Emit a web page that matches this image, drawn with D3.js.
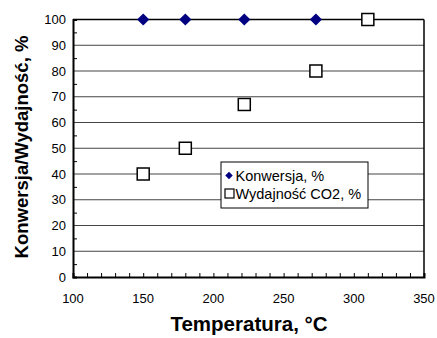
<!DOCTYPE html>
<html>
<head>
<meta charset="utf-8">
<script src="https://cdn.jsdelivr.net/npm/d3@7"></script>
<style>
  body { margin: 0; background: #fff; }
  text { font-family: Arial, "Liberation Sans", sans-serif; }
</style>
</head>
<body>
<div class="chart"></div>
<script>
// 데이터
const temps = [150, 180, 222, 273, 310];
const konwersja = [100, 100, 100, 100, null];
const wydajnosc = [40, 50, 67, 80, 100];
const xTicks = [100, 150, 200, 250, 300, 350];
const yTicks = [0, 10, 20, 30, 40, 50, 60, 70, 80, 90, 100];
const seriesNames = ['Konwersja, %', 'Wydajność CO2, %'];

const W = 437, H = 338;
const margin = {top: 19.5, right: 13, bottom: 61, left: 73};

const svg = d3.select('.chart').append('svg')
  .attr('width', W).attr('height', H);

const x = d3.scaleLinear().domain([100, 350]).range([margin.left, W - margin.right]);
const y = d3.scaleLinear().domain([0, 100]).range([H - margin.bottom, margin.top]);

// 그리드
svg.append('g')
  .selectAll('line')
  .data(yTicks.filter(d => d > 0))
  .join('line')
    .attr('x1', x(100)).attr('x2', x(350))
    .attr('y1', d => y(d)).attr('y2', d => y(d))
    .attr('stroke', d => d === 100 ? '#000' : '#444')
    .attr('stroke-width', d => d === 100 ? 1.5 : 1);

// 오른쪽 테두리
svg.append('line')
  .attr('x1', x(350)).attr('x2', x(350))
  .attr('y1', y(0)).attr('y2', y(100))
  .attr('stroke', '#000').attr('stroke-width', 1.5);

// 축
const xAxis = svg.append('g')
  .attr('transform', `translate(0,${y(0)})`)
  .call(d3.axisBottom(x).tickValues(d3.range(100, 351, 10)).tickSize(-4).tickFormat(''));
xAxis.select('.domain').attr('stroke-width', 2);
xAxis.selectAll('.tick line').attr('stroke-width', 1);

svg.append('g')
  .selectAll('text')
  .data(xTicks)
  .join('text')
    .attr('x', d => x(d))
    .attr('y', y(0) + 26)
    .attr('text-anchor', 'middle')
    .attr('font-size', 13)
    .text(d => d);

const yAxis = svg.append('g')
  .attr('transform', `translate(${x(100)},0)`)
  .call(d3.axisLeft(y).tickValues(d3.range(5, 100, 10)).tickSize(-4).tickFormat(''));
yAxis.select('.domain').attr('stroke-width', 2);

svg.append('g')
  .selectAll('text')
  .data(yTicks)
  .join('text')
    .attr('x', x(100) - 7)
    .attr('y', d => y(d))
    .attr('dy', '0.35em')
    .attr('text-anchor', 'end')
    .attr('font-size', 13)
    .text(d => d);

// 축 제목
svg.append('text')
  .attr('x', 249)
  .attr('y', 331)
  .attr('text-anchor', 'middle')
  .attr('font-size', 20.5)
  .attr('font-weight', 'bold')
  .text('Temperatura, °C');

svg.append('text')
  .attr('transform', `translate(28,147) rotate(-90)`)
  .attr('text-anchor', 'middle')
  .attr('font-size', 18.5)
  .attr('font-weight', 'bold')
  .text('Konwersja/Wydajność, %');

// 데이터 마커
const diamond = d3.symbol().type(d3.symbolDiamond2).size(95);
svg.append('g')
  .selectAll('path')
  .data(temps.map((t, i) => [t, konwersja[i]]).filter(d => d[1] != null))
  .join('path')
    .attr('transform', d => `translate(${x(d[0])},${y(d[1])})`)
    .attr('d', diamond)
    .attr('fill', '#000080');

svg.append('g')
  .selectAll('rect')
  .data(temps.map((t, i) => [t, wydajnosc[i]]))
  .join('rect')
    .attr('x', d => x(d[0]) - 6)
    .attr('y', d => y(d[1]) - 6)
    .attr('width', 12).attr('height', 12)
    .attr('fill', '#fff')
    .attr('stroke', '#000')
    .attr('stroke-width', 1.5);

// 범례
const lg = svg.append('g').attr('transform', 'translate(221,162)');
lg.append('rect')
  .attr('width', 147).attr('height', 46)
  .attr('fill', '#fff').attr('stroke', '#000').attr('stroke-width', 1);
lg.append('path')
  .attr('transform', 'translate(8,13.5)')
  .attr('d', d3.symbol().type(d3.symbolDiamond2).size(36))
  .attr('fill', '#000080');
lg.append('rect')
  .attr('x', 4).attr('y', 27).attr('width', 9).attr('height', 9)
  .attr('fill', '#fff').attr('stroke', '#000').attr('stroke-width', 1.2);
lg.selectAll('text.lbl')
  .data(seriesNames)
  .join('text')
    .attr('class', 'lbl')
    .attr('x', 14.5)
    .attr('y', (_, i) => 13.5 + i * 18)
    .attr('dy', '0.35em')
    .attr('font-size', 14.5)
    .text(d => d);
</script>
</body>
</html>
